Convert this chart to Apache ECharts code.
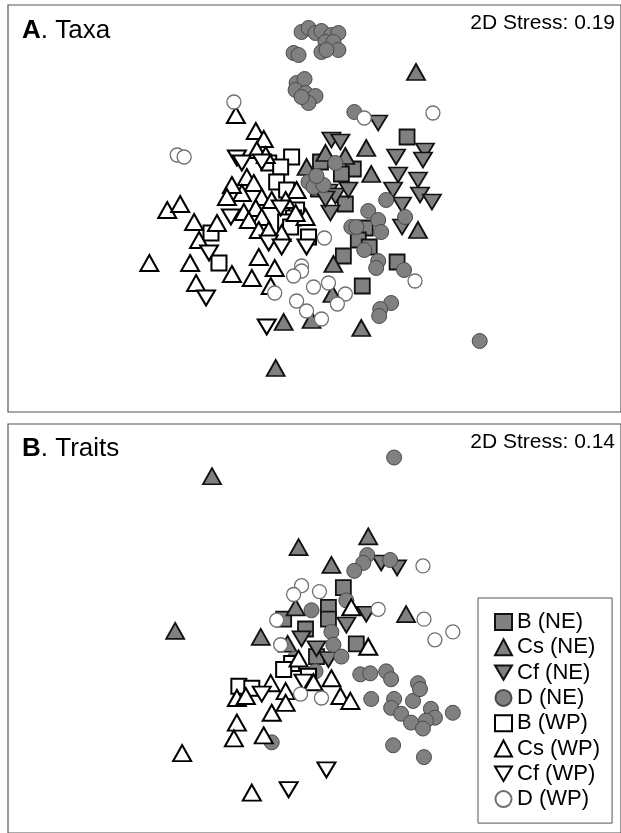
<!DOCTYPE html>
<html><head><meta charset="utf-8">
<script src="https://cdn.jsdelivr.net/npm/echarts@6/dist/echarts.min.js"></script>
<style>html,body{margin:0;padding:0;background:#fff}#c{width:621px;height:833px}</style>
</head><body><div id="c"></div>
<script>
// Legend categories
const groups = ["B (NE)","Cs (NE)","Cf (NE)","D (NE)","B (WP)","Cs (WP)","Cf (WP)","D (WP)"];
// Panel titles and stress values
const panelTitles = [["A",". Taxa"],["B",". Traits"]];
const stressLabels = ["2D Stress: 0.19","2D Stress: 0.14"];

// ---- Panel A: Taxa (NMDS axis 1, axis 2) ----
const taxa_B_NE = [[0.99,0.73],[0.12,0.48],[0.45,0.41],[0.33,0.36],[0.10,0.21],[0.37,0.06],[0.57,-0.18],[0.50,-0.30],[0.61,-0.37],[0.35,-0.46],[0.89,-0.52],[0.54,-0.76]];
const taxa_Cs_NE = [[1.08,1.38],[0.58,0.62],[0.63,0.36],[0.17,0.57],[0.37,0.54],[-0.02,0.43],[1.10,-0.20],[0.25,-0.54],[0.24,-0.84],[-0.25,-1.12],[0.03,-1.10],[0.53,-1.18],[-0.33,-1.58]];
const taxa_Cf_NE = [[0.70,0.87],[0.23,0.70],[0.32,0.68],[0.88,0.53],[1.17,0.59],[1.15,0.50],[0.90,0.35],[1.10,0.30],[0.85,0.20],[1.12,0.15],[1.24,0.08],[0.94,0.05],[0.94,-0.17],[0.20,0.18],[0.27,0.14],[0.40,0.20],[0.22,-0.03],[0.17,0.11]];
const taxa_D_NE = [[-0.07,1.78],[0.00,1.82],[0.07,1.77],[0.13,1.79],[0.23,1.75],[0.30,1.77],[0.17,1.68],[0.25,1.68],[0.13,1.58],[0.30,1.60],[0.18,1.60],[-0.15,1.57],[-0.10,1.55],[-0.12,1.27],[-0.04,1.31],[-0.13,1.20],[-0.03,1.17],[0.07,1.14],[0.00,1.07],[-0.07,1.13],[0.46,0.98],[0.27,0.47],[0.00,0.28],[0.05,0.23],[0.15,0.25],[0.08,0.34],[0.78,0.10],[0.60,-0.01],[0.70,-0.10],[0.97,-0.07],[0.43,-0.17],[0.48,-0.17],[0.73,-0.22],[0.56,-0.40],[0.70,-0.51],[0.68,-0.58],[0.96,-0.60],[0.83,-0.93],[0.72,-0.99],[0.71,-1.06],[1.72,-1.31]];
const taxa_B_WP = [[-0.17,0.53],[-0.40,0.47],[-0.28,0.43],[-0.32,0.28],[-0.22,0.20],[-0.12,0.00],[-0.15,-0.08],[-0.23,-0.12],[-0.18,-0.17],[0.00,-0.27],[-0.98,-0.23],[-0.90,-0.53]];
const taxa_Cs_WP = [[-0.73,0.95],[-0.53,0.79],[-0.45,0.71],[-0.52,0.60],[-0.43,0.55],[-0.62,0.33],[-0.55,0.27],[-0.67,0.17],[-0.47,0.13],[-0.37,0.10],[-0.12,0.20],[-0.23,0.10],[-0.65,-0.02],[-0.53,0.02],[-0.47,-0.07],[-0.60,-0.10],[-0.03,-0.07],[-0.13,-0.03],[-0.50,-0.20],[-0.40,-0.20],[-0.27,-0.23],[-1.42,0.00],[-1.29,0.06],[-1.15,-0.12],[-0.92,-0.13],[-1.10,-0.30],[-1.60,-0.53],[-1.19,-0.53],[-1.13,-0.73],[-0.77,-0.64],[-0.57,-0.68],[-0.50,-0.47],[-0.34,-0.58],[-0.38,-0.76],[-0.77,0.25],[-0.82,0.13]];
const taxa_Cf_WP = [[-0.72,0.52],[-0.67,0.47],[-0.47,0.48],[-0.78,-0.07],[-1.00,-0.43],[-0.40,-0.33],[-0.27,-0.37],[-0.02,-0.37],[-1.03,-0.88],[-0.42,-1.17],[-0.28,0.02]];
const taxa_D_WP = [[-0.75,1.08],[-1.32,0.55],[-1.25,0.53],[0.56,0.92],[1.25,0.97],[0.16,-0.28],[-0.07,-0.56],[-0.07,-0.61],[-0.15,-0.66],[-0.34,-0.83],[0.05,-0.77],[0.20,-0.73],[0.37,-0.84],[0.29,-0.94],[-0.12,-0.91],[-0.02,-1.01],[0.13,-1.09],[1.07,-0.71]];

// ---- Panel B: Traits ----
const traits_B_NE = [[0.25,0.60],[0.10,0.40],[0.10,0.28],[-0.35,0.28],[-0.13,0.18],[0.38,0.03],[-0.02,-0.10]];
const traits_Cs_NE = [[-1.07,1.73],[0.50,1.12],[-0.20,1.01],[0.13,0.83],[0.88,0.33],[-0.23,0.40],[-0.58,0.10],[-0.31,0.03],[-1.44,0.16]];
const traits_Cf_NE = [[0.63,0.85],[0.79,0.80],[0.48,0.33],[0.28,0.22],[-0.17,0.08],[-0.02,-0.02],[0.10,-0.13]];
const traits_D_NE = [[0.76,1.92],[0.49,0.93],[0.45,0.85],[0.36,0.77],[0.72,0.88],[0.28,0.47],[-0.07,0.37],[0.13,0.15],[0.15,0.02],[0.23,-0.10],[-0.24,-0.12],[-0.03,-0.25],[0.42,-0.28],[0.52,-0.27],[0.68,-0.25],[0.73,-0.33],[0.53,-0.53],[0.76,-0.53],[0.73,-0.62],[0.83,-0.68],[0.95,-0.55],[1.00,-0.37],[1.02,-0.43],[1.13,-0.63],[1.17,-0.72],[1.08,-0.75],[0.93,-0.77],[1.05,-0.83],[1.35,-0.67],[0.75,-1.00],[1.06,-1.12],[-0.47,-0.97]];
const traits_B_WP = [[-0.80,-0.40],[-0.67,-0.42],[-0.27,-0.17],[-0.35,-0.23],[-0.10,-0.30]];
const traits_Cs_WP = [[-0.82,-0.52],[-0.73,-0.50],[-0.48,-0.37],[-0.33,-0.45],[-0.33,-0.57],[-0.47,-0.67],[-0.82,-0.77],[-0.85,-0.93],[-0.55,-0.90],[-1.37,-1.08],[0.22,-0.50],[0.32,-0.55],[0.13,-0.32],[-0.67,-1.48],[0.50,0.00],[0.33,0.40],[-0.20,-0.12],[-0.05,-0.36]];
const traits_Cf_WP = [[-0.57,-0.48],[0.08,-1.25],[-0.30,-1.45],[-0.15,-0.36]];
const traits_D_WP = [[1.05,0.82],[-0.17,0.62],[-0.25,0.53],[0.01,0.56],[0.60,0.38],[1.06,0.28],[1.17,0.07],[1.35,0.15],[-0.38,0.02],[-0.42,0.27],[0.03,-0.52],[-0.18,-0.48]];

const taxaData = [taxa_B_NE,taxa_Cs_NE,taxa_Cf_NE,taxa_D_NE,taxa_B_WP,taxa_Cs_WP,taxa_Cf_WP,taxa_D_WP];
const traitsData = [traits_B_NE,traits_Cs_NE,traits_Cf_NE,traits_D_NE,traits_B_WP,traits_Cs_WP,traits_Cf_WP,traits_D_WP];

const DOWN = 'path://M0,0L20,0L10,17Z';
const GRAY = '#808080';
const styles = [
  {symbol:'rect', size:[15,15], item:{color:GRAY, borderColor:'#111', borderWidth:1.8}},
  {symbol:'triangle', size:[18,16], item:{color:GRAY, borderColor:'#111', borderWidth:1.8}},
  {symbol:DOWN, size:[18,15], item:{color:GRAY, borderColor:'#111', borderWidth:1.8}},
  {symbol:'circle', size:15, item:{color:GRAY, borderColor:'#4a4a4a', borderWidth:1}},
  {symbol:'rect', size:[15,15], item:{color:'#fff', borderColor:'#000', borderWidth:2}},
  {symbol:'triangle', size:[18,16], item:{color:'#fff', borderColor:'#000', borderWidth:2}},
  {symbol:DOWN, size:[18,15], item:{color:'#fff', borderColor:'#000', borderWidth:2}},
  {symbol:'circle', size:14, item:{color:'#fff', borderColor:'#707070', borderWidth:1.3}}
];

const series = [];
[taxaData, traitsData].forEach((panel, gi) => {
  panel.forEach((d, i) => {
    series.push({
      type:'scatter', name:groups[i], xAxisIndex:gi, yAxisIndex:gi,
      data:d, symbol:styles[i].symbol, symbolSize:styles[i].size,
      itemStyle:Object.assign({opacity:1}, styles[i].item),
      emphasis:{disabled:true}, z:2
    });
  });
});

const hiddenAxis = (gi, min, max) => ({gridIndex:gi, type:'value', min:min, max:max,
  axisLine:{show:false}, axisTick:{show:false}, axisLabel:{show:false}, splitLine:{show:false}});

const FONT = 'Liberation Sans, Arial, sans-serif';
const graphics = [];
[[31, 23],[449, 442]].forEach((yy, k) => {
  graphics.push({type:'text', x:22, y:yy[0], z:10, style:{
    text:'{b|' + panelTitles[k][0] + '}' + panelTitles[k][1],
    fontFamily:FONT, fontSize:26, fill:'#000', verticalAlign:'middle',
    rich:{b:{fontWeight:'bold', fontSize:26, fontFamily:FONT, fill:'#000'}}}});
  graphics.push({type:'text', x:615, y:yy[1], z:10, style:{
    text:stressLabels[k], fontFamily:FONT, fontSize:21, fill:'#000', align:'right', verticalAlign:'middle'}});
});

const chart = echarts.init(document.getElementById('c'), null, {renderer:'canvas'});
chart.setOption({
  animation:false,
  backgroundColor:'#fff',
  grid:[
    {left:8, top:5, width:616, height:407, show:true, borderColor:'#555', borderWidth:1.2, backgroundColor:'#fff'},
    {left:8, top:424, width:616, height:415, show:true, borderColor:'#555', borderWidth:1.2, backgroundColor:'#fff'}
  ],
  xAxis:[hiddenAxis(0,-3.02,3.14), hiddenAxis(1,-3.12,3.04)],
  yAxis:[hiddenAxis(0,-2.02,2.05), hiddenAxis(1,-1.89,2.26)],
  legend:{
    data:groups, orient:'vertical', left:478, top:598,
    itemWidth:17, itemHeight:16, itemGap:3.3,
    padding:[13,12,13,16], borderColor:'#555', borderWidth:1, backgroundColor:'#fff',
    textStyle:{fontSize:22, lineHeight:22, fontFamily:FONT, color:'#000'},
    selectedMode:false, z:20
  },
  graphic:graphics,
  series:series
});
</script></body></html>
